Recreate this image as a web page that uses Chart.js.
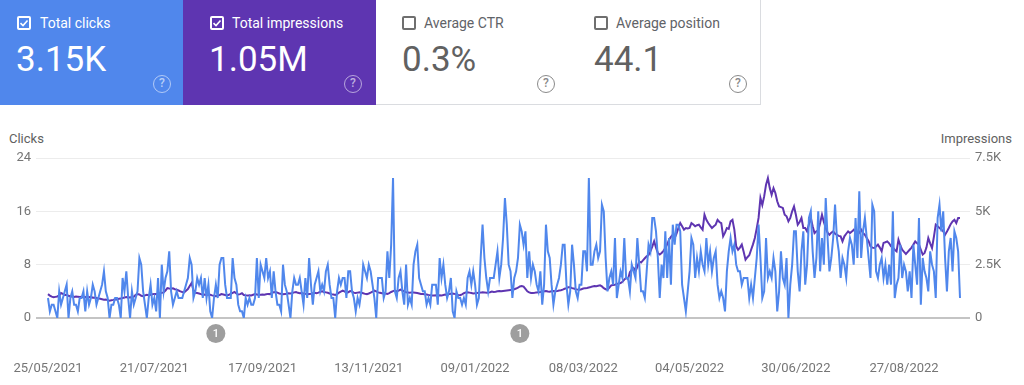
<!DOCTYPE html>
<html>
<head>
<meta charset="utf-8">
<script src="https://cdn.jsdelivr.net/npm/chart.js@4.4.1/dist/chart.umd.min.js"></script>
<style>
  html, body { margin: 0; padding: 0; background: #fff; width: 1024px; height: 385px; overflow: hidden; font-family: Roboto, "Noto Sans", sans-serif; }
  .cards { position: absolute; left: 0; top: 0; height: 105px; width: 760px; }
  .card { position: absolute; top: 0; height: 105px; width: 192px; box-sizing: border-box; }
  .card .cb { position: absolute; left: 17px; top: 16px; width: 14px; height: 14px; box-sizing: border-box; border-radius: 2px; }
  .card .lbl { position: absolute; left: 40px; top: 14px; font-size: 14px; line-height: 18px; white-space: nowrap; }
  .card .val { position: absolute; left: 16px; top: 40px; font-size: 35px; line-height: 40px; white-space: nowrap; }
  .card .help { position: absolute; left: 153px; top: 75px; width: 18px; height: 18px; box-sizing: border-box; border-radius: 50%; font-size: 12px; line-height: 15px; text-align: center; font-weight: 500; }
  .on { color: #fff; }
  .on .cb { border: 2px solid #fff; }
  .on .help { border: 1.5px solid rgba(255,255,255,0.55); color: rgba(255,255,255,0.6); }
  .off { background: #fff; color: #5f6368; border-right: 1px solid #dadce0; border-bottom: 1px solid #dadce0; }
  .off .cb { border: 2px solid #6f6f6f; }
  .off .val { color: #616161; }
  .off .help { border: 1.5px solid #8a8a8a; color: #8a8a8a; }
  .axt { position: absolute; top: 131px; font-size: 13px; color: #616161; white-space: nowrap; }
  #wrap { position: absolute; left: 0; top: 125px; width: 1024px; height: 260px; }
</style>
</head>
<body>
<div class="cards">
  <div class="card on" style="left:0;background:#5087ec;">
    <div class="cb"><svg width="10" height="10" viewBox="0 0 10 10" style="position:absolute;left:0;top:0"><path d="M1.5 5.2 L4 7.5 L8.5 2.5" fill="none" stroke="#fff" stroke-width="1.6"/></svg></div>
    <div class="lbl">Total clicks</div>
    <div class="val">3.15K</div>
    <div class="help">?</div>
  </div>
  <div class="card on" style="left:183px;width:193px;background:#5e35b1;">
    <div class="cb" style="left:27px"><svg width="10" height="10" viewBox="0 0 10 10" style="position:absolute;left:0;top:0"><path d="M1.5 5.2 L4 7.5 L8.5 2.5" fill="none" stroke="#fff" stroke-width="1.6"/></svg></div>
    <div class="lbl" style="left:49px">Total impressions</div>
    <div class="val" style="left:26px">1.05M</div>
    <div class="help" style="left:161px">?</div>
  </div>
  <div class="card off" style="left:376px;width:193px;">
    <div class="cb" style="left:26px"></div>
    <div class="lbl" style="left:48px">Average CTR</div>
    <div class="val" style="left:26px">0.3%</div>
    <div class="help" style="left:161px">?</div>
  </div>
  <div class="card off" style="left:568px;width:193px;">
    <div class="cb" style="left:26px"></div>
    <div class="lbl" style="left:48px">Average position</div>
    <div class="val" style="left:26px">44.1</div>
    <div class="help" style="left:161px">?</div>
  </div>
</div>
<div class="axt" style="left:9px;">Clicks</div>
<div class="axt" style="right:12px;">Impressions</div>
<div id="wrap"><canvas id="c" width="1024" height="260"></canvas></div>
<script>
// ---- data (daily, starting 25/05/2021) ----
const startDate = [2021, 5, 25];
const clicks = [
 3,1,2,2,1,0,4,2,3,4, 5,0,3,4,2,2,1,3,3,4, 1,4,2,3,5,4,2,3,4,5, 7,4,3,0,2,2,3,3,2,0,
 6,4,7,3,0,4,2,3,4,9, 8,4,2,0,3,5,2,3,1,6, 0,8,4,6,7,10,4,2,3,4, 3,3,3,4,5,6,9,8,3,4,
 6,5,6,3,6,3,5,1,0,3, 5,3,8,9,9,5,3,3,3,9, 6,5,2,1,1,0,3,2,3,2, 2,3,9,3,8,7,6,9,6,7,
 3,7,4,2,2,1,8,5,4,2, 0,4,6,5,5,6,4,2,6,3, 9,5,2,5,6,7,4,5,4,7, 8,5,3,3,0,4,6,5,6,6,
 3,7,7,4,3,1,3,2,4,8, 7,6,8,7,5,3,0,6,6,6, 3,4,10,6,11,21,4,3,6,7, 4,2,8,2,3,2,8,10,11,6,
 5,4,4,2,3,2,5,5,5,2, 9,6,8,5,3,4,6,1,0,4, 3,3,2,3,2,6,7,5,7,5, 2,3,9,14,9,6,4,6,6,6,
 8,10,6,8,12,18,14,8,7,3, 6,7,9,14,13,11,13,6,10,6, 8,7,5,4,7,2,5,14,10,9, 5,2,4,5,6,8,11,11,5,2,
 4,11,8,4,3,5,5,10,10,7, 21,8,8,10,11,9,10,17,16,9, 4,6,7,5,12,3,5,7,6,12, 6,6,4,8,7,6,12,8,4,4,
 3,7,11,10,15,15,13,9,3,8, 6,13,6,12,5,14,11,14,14,13, 5,3,1,4,7,12,11,6,9,7, 10,8,7,12,8,10,7,9,10,5,
 3,4,3,1,7,10,12,10,11,8, 7,7,5,6,6,6,3,5,3,6, 9,14,9,3,4,12,6,7,6,9, 7,1,4,10,6,5,9,0,5,8,
 13,13,7,4,10,13,5,8,15,16, 10,6,9,16,7,12,8,18,12,7, 9,12,17,12,10,6,9,8,6,10, 12,11,8,15,9,19,9,13,15,12,
 9,6,17,16,7,6,8,9,6,8, 5,8,5,16,3,5,6,11,6,8, 7,4,7,3,11,8,5,15,2,9, 7,6,4,10,8,7,3,15,17,13,
 16,9,4,10,12,7,13,12,10,3
];
const impressions = [
 1120,1050,1000,970,990,1010,1060,1170,1130,1080, 1090,1040,1010,1020,990,1010,1000,980,990,970,
 980,960,970,990,950,960,940,920,900,880, 860,870,840,810,830,850,880,870,900,910,
 940,960,980,950,970,960,1000,1080,1120,1100, 1040,1020,1060,1090,1070,1090,1110,1130,1120,1150,
 1160,1180,1200,1290,1400,1380,1370,1390,1350,1330, 1290,1250,1220,1200,1280,1360,1500,1640,1300,1180,
 1170,1150,1120,1090,1100,1080,1100,1090,1060,1040, 1020,1050,1080,1120,1100,1080,1060,1090,1130,1180,
 1220,1150,1100,1120,1160,1080,1060,1050,1070,1060, 1090,1120,1100,1080,1090,1100,1090,1110,1130,1120,
 1180,1210,1220,1190,1150,1130,1110,1120,1140,1160, 1150,1170,1200,1220,1180,1160,1170,1150,1130,1110,
 1120,1130,1160,1180,1160,1190,1230,1250,1220,1200, 1180,1150,1120,1100,1080,1120,1190,1240,1280,1250,
 1190,1210,1260,1240,1180,1170,1190,1210,1180,1160, 1130,1120,1150,1190,1240,1280,1250,1200,1180,1160,
 1170,1150,1130,1170,1220,1260,1290,1250,1280,1330, 1290,1250,1210,1190,1180,1200,1190,1180,1170,1150,
 1130,1120,1110,1100,1080,1070,1060,1050,1060,1040, 1060,1050,1080,1100,1090,1120,1140,1150,1130,1100,
 1080,1070,1110,1160,1200,1210,1190,1170,1150,1160, 1170,1180,1190,1210,1200,1180,1190,1210,1240,1220,
 1230,1250,1260,1250,1270,1280,1290,1300,1310,1320, 1350,1380,1420,1480,1500,1470,1360,1250,1200,1170,
 1170,1180,1200,1210,1220,1240,1250,1260,1240,1230, 1250,1260,1250,1260,1290,1300,1330,1370,1400,1440,
 1440,1400,1380,1350,1330,1320,1350,1380,1400,1410, 1430,1450,1480,1500,1490,1510,1530,1480,1400,1350,
 1330,1420,1530,1550,1560,1600,1620,1640,1700,1800, 1880,1820,2150,2270,2340,2200,2400,2650,2600,2700,
 2800,2890,2950,3120,3350,3600,3300,3050,2980,3050, 3150,3280,3450,3670,3800,3900,3750,3950,4220,4450,
 4300,4140,4220,4200,4220,4450,4380,4300,4350,4375, 4250,4140,4840,4600,4450,4330,4220,4300,4375,4600,
 4500,4450,3830,4000,4220,4180,4530,4600,4140,3360, 3200,3300,3440,3100,2730,2850,2940,3200,3450,3750,
 4200,4690,5625,5300,5700,6250,6560,6090,5780,6090, 5860,5470,5230,5200,5160,4840,4770,4530,4690,5000,
 5230,4840,4375,4500,4690,4220,4220,4060,4400,4690, 4300,3980,4060,4100,4450,4840,4500,4220,4000,3900,
 4000,4060,3950,3900,3850,3830,3590,3830,3950,4060, 3980,4050,4140,4020,3900,4000,4140,3980,3900,3750,
 3600,3360,3300,3280,3350,3440,3300,3125,3520,3550, 3590,3500,3360,3300,3200,3125,3670,3400,3200,3100,
 3000,3100,3200,3300,3440,3590,3500,3440,3200,2970, 3050,3300,3750,3500,3280,3800,4375,4300,4220,4150,
 4060,3900,4050,4220,4400,4530,4600,4450,4690,4690
];
const xTickLabels = ['25/05/2021','21/07/2021','17/09/2021','13/11/2021','09/01/2022','08/03/2022','04/05/2022','30/06/2022','27/08/2022'];
const clickTicks = [0, 8, 16, 24];
const impressionTicks = [0, 2500, 5000, 7500];
const impressionTickLabels = ['0', '2.5K', '5K', '7.5K'];
const annotationDates = ['23/08/2021', '02/02/2022'];
const annotationTexts = ['1', '1'];

// ---- categories ----
function fmt(d) {
  const dd = String(d.getDate()).padStart(2, '0');
  const mm = String(d.getMonth() + 1).padStart(2, '0');
  return dd + '/' + mm + '/' + d.getFullYear();
}
const dates = clicks.map((_, i) => fmt(new Date(startDate[0], startDate[1] - 1, startDate[2] + i)));

const markerPlugin = {
  id: 'markers',
  afterDraw(chart) {
    const ctx = chart.ctx;
    const xs = chart.scales.x;
    const y = chart.chartArea.bottom + 15.5;
    annotationDates.forEach((d, k) => {
      const idx = dates.indexOf(d);
      if (idx < 0) return;
      const x = xs.getPixelForValue(idx);
      ctx.save();
      ctx.beginPath();
      ctx.arc(x, y, 9.5, 0, Math.PI * 2);
      ctx.fillStyle = '#9e9e9e';
      ctx.fill();
      ctx.fillStyle = '#ffffff';
      ctx.font = '500 11px Roboto';
      ctx.textAlign = 'center';
      ctx.textBaseline = 'middle';
      ctx.fillText(annotationTexts[k], x, y + 0.5);
      ctx.restore();
    });
  }
};

Chart.defaults.font.family = 'Roboto';
Chart.defaults.font.size = 13;
Chart.defaults.color = '#757575';

new Chart(document.getElementById('c'), {
  type: 'line',
  data: {
    labels: dates,
    datasets: [
      { label: 'Clicks', data: clicks, yAxisID: 'y', borderColor: '#5087ec', borderWidth: 2, pointRadius: 0, tension: 0 },
      { label: 'Impressions', data: impressions, yAxisID: 'y1', borderColor: '#5e35b1', borderWidth: 2, pointRadius: 0, tension: 0 }
    ]
  },
  options: {
    responsive: false,
    animation: false,
    events: [],
    layout: { padding: { top: 33, left: 0, right: 0, bottom: 0 } },
    plugins: { legend: { display: false }, tooltip: { enabled: false } },
    scales: {
      x: {
        offset: false,
        grid: { display: false },
        border: { display: false },
        ticks: {
          autoSkip: false, maxRotation: 0, minRotation: 0, padding: 35, color: '#757575',
          callback: function (v, i) { const l = dates[i]; return xTickLabels.includes(l) ? l : ''; }
        },
        afterFit(s) { s.height = 67; s.paddingLeft = 0; s.paddingRight = 0; }
      },
      y: {
        position: 'left', min: 0, max: 24,
        border: { display: false },
        grid: {
          color: c => c.tick.value === 0 ? '#c4c4c4' : '#ececec',
          lineWidth: c => c.tick.value === 0 ? 2 : 1,
          tickLength: 12, drawTicks: true
        },
        ticks: { padding: 5, color: '#757575' },
        afterBuildTicks(s) { s.ticks = clickTicks.map(v => ({ value: v })); },
        afterFit(s) { s.width = 48; s.paddingTop = 0; s.paddingBottom = 0; }
      },
      y1: {
        position: 'right', min: 0, max: 7500,
        border: { display: false },
        grid: {
          drawOnChartArea: false,
          color: c => c.tick.value === 0 ? '#c4c4c4' : '#ececec',
          lineWidth: c => c.tick.value === 0 ? 2 : 1,
          tickLength: 10, drawTicks: true
        },
        ticks: { padding: 5, color: '#757575', crossAlign: 'near', callback: v => impressionTickLabels[impressionTicks.indexOf(v)] },
        afterBuildTicks(s) { s.ticks = impressionTicks.map(v => ({ value: v })); },
        afterFit(s) { s.width = 64; s.paddingTop = 0; s.paddingBottom = 0; }
      }
    }
  },
  plugins: [markerPlugin]
});
</script>
</body>
</html>
